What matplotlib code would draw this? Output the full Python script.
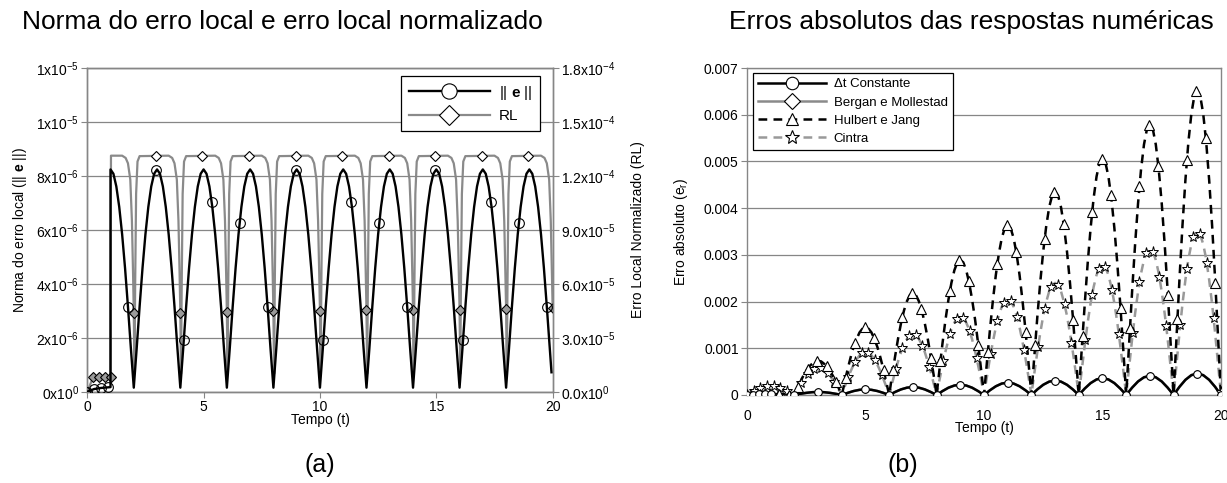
import numpy as np
import matplotlib.pyplot as plt
from matplotlib.lines import Line2D

plt.rcParams['font.family'] = ['Liberation Sans', 'DejaVu Sans']
plt.rcParams['mathtext.fontset'] = 'custom'
plt.rcParams['mathtext.rm'] = 'Liberation Sans'
plt.rcParams['mathtext.it'] = 'Liberation Sans:italic'
plt.rcParams['mathtext.bf'] = 'Liberation Sans:bold'

# ---------------- panel (a) data ----------------
# || e || (units 1e-6), sampled every 0.125 from t=1
t_e = [0, 0.3, 0.6, 0.9, 1.0] + np.arange(1.0, 19.9, 0.125).tolist() + [19.95]
e_norm = [0, 0.10, 0.14, 0.16, 0.17,
          8.24, 8.08, 7.61, 6.85, 5.83, 4.58, 3.15, 1.61, 0.15, 1.61, 3.15, 4.58, 5.83, 6.85, 7.61, 8.08,
          8.24, 8.08, 7.61, 6.85, 5.83, 4.58, 3.15, 1.61, 0.15, 1.61, 3.15, 4.58, 5.83, 6.85, 7.61, 8.08,
          8.24, 8.08, 7.61, 6.85, 5.83, 4.58, 3.15, 1.61, 0.15, 1.61, 3.15, 4.58, 5.83, 6.85, 7.61, 8.08,
          8.24, 8.08, 7.61, 6.85, 5.83, 4.58, 3.15, 1.61, 0.15, 1.61, 3.15, 4.58, 5.83, 6.85, 7.61, 8.08,
          8.24, 8.08, 7.61, 6.85, 5.83, 4.58, 3.15, 1.61, 0.15, 1.61, 3.15, 4.58, 5.83, 6.85, 7.61, 8.08,
          8.24, 8.08, 7.61, 6.85, 5.83, 4.58, 3.15, 1.61, 0.15, 1.61, 3.15, 4.58, 5.83, 6.85, 7.61, 8.08,
          8.24, 8.08, 7.61, 6.85, 5.83, 4.58, 3.15, 1.61, 0.15, 1.61, 3.15, 4.58, 5.83, 6.85, 7.61, 8.08,
          8.24, 8.08, 7.61, 6.85, 5.83, 4.58, 3.15, 1.61, 0.15, 1.61, 3.15, 4.58, 5.83, 6.85, 7.61, 8.08,
          8.24, 8.08, 7.61, 6.85, 5.83, 4.58, 3.15, 1.61, 0.15, 1.61, 3.15, 4.58, 5.83, 6.85, 7.61, 8.08,
          8.24, 8.08, 7.61, 6.85, 5.83, 4.58, 3.15, 1.61,
          0.72]
e_mk_t = [0, 0.3, 0.6, 0.9, 1.75, 2.95, 4.15, 5.35, 6.55, 7.75, 8.95, 10.15, 11.35,
          12.55, 13.75, 14.95, 16.15, 17.35, 18.55, 19.75]
e_mk = [0, 0.10, 0.14, 0.16, 3.15, 8.21, 1.92, 7.03, 6.27, 3.15, 8.21, 1.92, 7.03,
        6.27, 3.15, 8.21, 1.92, 7.03, 6.27, 3.15]

# RL (units 1e-5)
t_rl = [0, 0.25, 0.5, 0.75, 1.0, 1.02,
        1.5, 1.65, 1.75, 1.85, 1.92, 1.97, 2.0, 2.03, 2.06, 2.1, 2.16, 2.25,
        3.5, 3.65, 3.75, 3.85, 3.92, 3.97, 4.0, 4.03, 4.06, 4.1, 4.16, 4.25,
        5.5, 5.65, 5.75, 5.85, 5.92, 5.97, 6.0, 6.03, 6.06, 6.1, 6.16, 6.25,
        7.5, 7.65, 7.75, 7.85, 7.92, 7.97, 8.0, 8.03, 8.06, 8.1, 8.16, 8.25,
        9.5, 9.65, 9.75, 9.85, 9.92, 9.97, 10.0, 10.03, 10.06, 10.1, 10.16, 10.25,
        11.5, 11.65, 11.75, 11.85, 11.92, 11.97, 12.0, 12.03, 12.06, 12.1, 12.16, 12.25,
        13.5, 13.65, 13.75, 13.85, 13.92, 13.97, 14.0, 14.03, 14.06, 14.1, 14.16, 14.25,
        15.5, 15.65, 15.75, 15.85, 15.92, 15.97, 16.0, 16.03, 16.06, 16.1, 16.16, 16.25,
        17.5, 17.65, 17.75, 17.85, 17.92, 17.97, 18.0, 18.03, 18.06, 18.1, 18.16, 18.25,
        19.5, 19.65, 19.75, 19.85, 19.92, 19.97, 20.0]
rl = [0, 0.795, 0.795, 0.795, 0.795, 13.125,
      13.125, 13.0, 12.7, 11.8, 9.5, 6.5, 4.38, 1.0, 6.0, 11.0, 12.8, 13.1,
      13.125, 13.0, 12.7, 11.8, 9.5, 6.5, 4.40, 1.0, 6.0, 11.0, 12.8, 13.1,
      13.125, 13.0, 12.7, 11.8, 9.5, 6.5, 4.44, 1.0, 6.0, 11.0, 12.8, 13.1,
      13.125, 13.0, 12.7, 11.8, 9.5, 6.5, 4.47, 1.0, 6.0, 11.0, 12.8, 13.1,
      13.125, 13.0, 12.7, 11.8, 9.5, 6.5, 4.50, 1.0, 6.0, 11.0, 12.8, 13.1,
      13.125, 13.0, 12.7, 11.8, 9.5, 6.5, 4.53, 1.0, 6.0, 11.0, 12.8, 13.1,
      13.125, 13.0, 12.7, 11.8, 9.5, 6.5, 4.55, 1.0, 6.0, 11.0, 12.8, 13.1,
      13.125, 13.0, 12.7, 11.8, 9.5, 6.5, 4.56, 1.0, 6.0, 11.0, 12.8, 13.1,
      13.125, 13.0, 12.7, 11.8, 9.5, 6.5, 4.61, 1.0, 6.0, 11.0, 12.8, 13.1,
      13.125, 13.0, 12.7, 11.8, 9.5, 6.5, 4.65]
rl_top_t = [2.95, 4.95, 6.95, 8.95, 10.95, 12.95, 14.95, 16.95, 18.95]
rl_top = [13.125] * 9
rl_low_t = [0, 0.25, 0.5, 0.75, 1.0, 2, 4, 6, 8, 10, 12, 14, 16, 18, 20]
rl_low = [0, 0.795, 0.795, 0.795, 0.795, 4.38, 4.40, 4.44, 4.47, 4.50, 4.53, 4.55, 4.56, 4.61, 4.65]

yticks_a = [0, 2e-6, 4e-6, 6e-6, 8e-6, 1.0e-5, 1.2e-5]
ylabels_a = [r'$\mathregular{0x10^{0}}$', r'$\mathregular{2x10^{-6}}$', r'$\mathregular{4x10^{-6}}$',
             r'$\mathregular{6x10^{-6}}$', r'$\mathregular{8x10^{-6}}$', r'$\mathregular{1x10^{-5}}$',
             r'$\mathregular{1x10^{-5}}$']
yticks_rl = [0, 3e-5, 6e-5, 9e-5, 1.2e-4, 1.5e-4, 1.8e-4]
ylabels_rl = [r'$\mathregular{0.0x10^{0}}$', r'$\mathregular{3.0x10^{-5}}$', r'$\mathregular{6.0x10^{-5}}$',
              r'$\mathregular{9.0x10^{-5}}$', r'$\mathregular{1.2x10^{-4}}$', r'$\mathregular{1.5x10^{-4}}$',
              r'$\mathregular{1.8x10^{-4}}$']

# ---------------- panel (b) data (units 1e-3) ----------------
t_fine = np.arange(0, 20.001, 0.125)
t_coarse = np.arange(0, 20.001, 0.25)

const = [0, .008, .014, .018, .020, .018, .014, .008,
         0, .025, .046, .060, .065, .060, .046, .025,
         0, .046, .085, .111, .120, .111, .085, .046,
         0, .065, .120, .157, .170, .157, .120, .065,
         0, .084, .156, .203, .220, .203, .156, .084,
         0, .101, .187, .245, .265, .245, .187, .101,
         0, .119, .219, .286, .310, .286, .219, .119,
         0, .138, .255, .333, .360, .333, .255, .138,
         0, .157, .290, .379, .410, .379, .290, .157,
         0, .176, .325, .425, .460, .425, .325, .176,
         0]
const_mk_t = [0, 0.25, 0.5, 0.75, 1.0, 2, 3, 4, 5, 6, 7, 8, 9, 10, 11, 12, 13, 14, 15, 16, 17, 18, 19, 20]
const_mk = [0, .008, .014, .018, .020, 0, .065, 0, .12, 0, .17, 0, .22, 0, .265, 0, .31, 0, .36, 0,
            .41, 0, .46, 0]

# Bergan e Mollestad lies under the constant-step curve in the picture
bergan = list(const)
bergan_mk_t = list(const_mk_t)
bergan_mk = list(const_mk)

hulbert = [0, .01, .01, .02, .02, .02, .03, .03, .03, .03, .03, .02, .02, .02, .01, .01,
           0, .14, .28, .41, .52, .61, .67, .72, .73, .72, .67, .61, .52, .41, .28, .14,
           0, .28, .56, .81, 1.03, 1.20, 1.34, 1.42, 1.45, 1.42, 1.34, 1.20, 1.03, .81, .56, .28,
           0, .43, .83, 1.21, 1.54, 1.81, 2.01, 2.14, 2.18, 2.14, 2.01, 1.81, 1.54, 1.21, .83, .43,
           0, .56, 1.11, 1.61, 2.04, 2.40, 2.67, 2.84, 2.89, 2.84, 2.67, 2.40, 2.04, 1.61, 1.11, .56,
           0, .71, 1.39, 2.02, 2.57, 3.02, 3.36, 3.57, 3.64, 3.57, 3.36, 3.02, 2.57, 2.02, 1.39, .71,
           0, .85, 1.67, 2.42, 3.08, 3.61, 4.02, 4.27, 4.35, 4.27, 4.02, 3.61, 3.08, 2.42, 1.67, .85,
           0, .99, 1.94, 2.82, 3.58, 4.21, 4.68, 4.97, 5.07, 4.97, 4.68, 4.21, 3.58, 2.82, 1.94, .99,
           0, 1.13, 2.22, 3.22, 4.10, 4.82, 5.36, 5.69, 5.80, 5.69, 5.36, 4.82, 4.10, 3.22, 2.22, 1.13,
           0, 1.27, 2.50, 3.63, 4.61, 5.42, 6.02, 6.40, 6.52, 6.40, 6.02, 5.42, 4.61, 3.63, 2.50, 1.27,
           0]
hulbert_mk_t = [0, 0.16, 0.56, 0.96, 1.36, 1.76, 2.16, 2.56, 2.96, 3.36, 3.76,
                4.16, 4.56, 4.96, 5.36, 5.76, 6.16, 6.56, 6.96, 7.36, 7.76,
                8.16, 8.56, 8.96, 9.36, 9.76, 10.16, 10.56, 10.96, 11.36, 11.76,
                12.16, 12.56, 12.96, 13.36, 13.76, 14.16, 14.56, 14.96, 15.36, 15.76,
                16.16, 16.56, 16.96, 17.36, 17.76, 18.16, 18.56, 18.96, 19.36, 19.76]
hulbert_mk = [0, .01, .02, .03, .03, .01, .18, .56, .73, .62, .27,
              .36, 1.12, 1.45, 1.22, .53, .54, 1.68, 2.18, 1.84, .80,
              .72, 2.23, 2.88, 2.44, 1.06, .91, 2.81, 3.63, 3.07, 1.34,
              1.08, 3.35, 4.34, 3.67, 1.60, 1.26, 3.91, 5.06, 4.28, 1.87,
              1.44, 4.47, 5.79, 4.90, 2.13, 1.62, 5.03, 6.51, 5.50, 2.40]

cintra = [0, .04, .08, .11, .14, .17, .18, .20, .20, .20, .18, .17, .14, .11, .08, .04,
          0, .11, .22, .32, .41, .48, .54, .57, .58, .57, .54, .48, .41, .32, .22, .11,
          0, .18, .35, .51, .65, .76, .85, .90, .92, .90, .85, .76, .65, .51, .35, .18,
          0, .25, .50, .72, .92, 1.08, 1.20, 1.28, 1.30, 1.28, 1.20, 1.08, .92, .72, .50, .25,
          0, .33, .64, .93, 1.19, 1.40, 1.55, 1.65, 1.68, 1.65, 1.55, 1.40, 1.19, .93, .64, .33,
          0, .40, .79, 1.14, 1.45, 1.70, 1.89, 2.01, 2.05, 2.01, 1.89, 1.70, 1.45, 1.14, .79, .40,
          0, .47, .92, 1.33, 1.70, 1.99, 2.22, 2.35, 2.40, 2.35, 2.22, 1.99, 1.70, 1.33, .92, .47,
          0, .54, 1.06, 1.55, 1.97, 2.31, 2.57, 2.73, 2.78, 2.73, 2.57, 2.31, 1.97, 1.55, 1.06, .54,
          0, .61, 1.20, 1.74, 2.21, 2.60, 2.89, 3.07, 3.13, 3.07, 2.89, 2.60, 2.21, 1.74, 1.20, .61,
          0, .68, 1.34, 1.95, 2.47, 2.91, 3.23, 3.43, 3.50, 3.43, 3.23, 2.91, 2.47, 1.95, 1.34, .68,
          0]
cintra_mk_t = [0, 0.28, 0.56, 0.84, 1.12, 1.40, 1.69, 2.28, 2.56, 2.84, 3.12, 3.40, 3.69,
               4.28, 4.56, 4.84, 5.12, 5.40, 5.69, 6.28, 6.56, 6.84, 7.12, 7.40, 7.69,
               8.28, 8.56, 8.84, 9.12, 9.40, 9.69, 10.28, 10.56, 10.84, 11.12, 11.40, 11.69,
               12.28, 12.56, 12.84, 13.12, 13.40, 13.69, 14.28, 14.56, 14.84, 15.12, 15.40, 15.69,
               16.28, 16.56, 16.84, 17.12, 17.40, 17.69, 18.28, 18.56, 18.84, 19.12, 19.40, 19.69, 20]
cintra_mk = [0, .09, .15, .19, .20, .16, .09, .25, .45, .56, .57, .47, .27,
             .39, .71, .89, .90, .74, .43, .55, 1.00, 1.26, 1.28, 1.05, .61,
             .72, 1.30, 1.63, 1.65, 1.36, .79, .87, 1.58, 1.98, 2.01, 1.66, .96,
             1.02, 1.85, 2.32, 2.36, 1.94, 1.12, 1.18, 2.14, 2.69, 2.73, 2.25, 1.30,
             1.33, 2.41, 3.03, 3.07, 2.53, 1.47, 1.49, 2.70, 3.39, 3.44, 2.83, 1.64, .07]

legend_b = ['\u0394t Constante', 'Bergan e Mollestad', 'Hulbert e Jang', 'Cintra']

GRID = '#868686'
GRAY = '#8a8a8a'
TICK_FS = 10

fig = plt.figure(figsize=(12.27, 4.83), dpi=100)

# ================= panel (a) =================
ax = fig.add_axes([0.0711, 0.1890, 0.3793, 0.6702])
ax2 = ax.twinx()
ax.set_zorder(ax2.get_zorder() + 1)
ax.patch.set_visible(False)

ax2.plot(t_rl, np.array(rl) * 1e-5, color=GRAY, lw=1.6, zorder=2)
ax2.plot(rl_top_t, np.array(rl_top) * 1e-5, ls='none', marker='D', ms=5.5,
         mfc='white', mec='black', mew=0.8, zorder=3)
ax2.plot(rl_low_t, np.array(rl_low) * 1e-5, ls='none', marker='D', ms=5.5,
         mfc='#9a9a9a', mec='black', mew=0.8, zorder=3)

ax.plot(t_e, np.array(e_norm) * 1e-6, color='black', lw=1.7, zorder=4)
ax.plot(e_mk_t, np.array(e_mk) * 1e-6, ls='none', marker='o', ms=7,
        mfc='none', mec='black', mew=0.8, zorder=5)

ax.set_xlim(0, 20)
ax.set_ylim(0, 1.2e-5)
ax2.set_ylim(0, 1.8e-4)
ax.set_xticks([0, 5, 10, 15, 20])
ax.set_yticks(yticks_a, ylabels_a)
ax2.set_yticks(yticks_rl, ylabels_rl)
ax.yaxis.grid(True, color=GRID, lw=0.9)
ax.set_axisbelow(True)
for a in (ax, ax2):
    for s in a.spines.values():
        s.set_color(GRID)
        s.set_linewidth(1.0)
    a.tick_params(direction='out', length=4, color=GRID, labelsize=TICK_FS, pad=2)
ax.tick_params(axis='x', pad=2)

ax.set_xlabel('Tempo (t)', fontsize=TICK_FS, labelpad=-1)
ax.set_ylabel(r'Norma do erro local (|| $\mathbf{e}$ ||)', fontsize=TICK_FS)
ax.yaxis.set_label_coords(-0.126, 0.5)
ax2.set_ylabel('Erro Local Normalizado (RL)', fontsize=TICK_FS)
ax2.yaxis.set_label_coords(1.168, 0.5)

h_a = [Line2D([], [], color='black', lw=1.7, marker='o', ms=11, mfc='white', mec='black', mew=0.8),
       Line2D([], [], color=GRAY, lw=1.6, marker='D', ms=10, mfc='white', mec='black', mew=0.8)]
leg = ax.legend(h_a, [r'|| $\mathbf{e}$ ||', 'RL'], loc='upper right',
                bbox_to_anchor=(0.9727, 0.9753), borderaxespad=0, fontsize=11, handlelength=5.3,
                numpoints=1, fancybox=False, framealpha=1, edgecolor='black',
                borderpad=0.5, labelspacing=0.5, handletextpad=0.6)
leg.get_frame().set_linewidth(0.9)

fig.text(282 / 1227, 1 - 22 / 483, 'Norma do erro local e erro local normalizado',
         ha='center', va='center', fontsize=19)
fig.text(320 / 1227, 1 - 465 / 483, '(a)', ha='center', va='center', fontsize=18)

# ================= panel (b) =================
bx = fig.add_axes([0.6088, 0.1822, 0.3863, 0.6770])
bx.plot(t_coarse, np.array(bergan) * 1e-3, color=GRAY, lw=1.8, zorder=2)
bx.plot(bergan_mk_t, np.array(bergan_mk) * 1e-3, ls='none', marker='D', ms=4,
        mfc='white', mec='black', mew=0.7, zorder=2)
bx.plot(t_fine, np.array(cintra) * 1e-3, color='#999999', lw=1.8, dashes=(3.5, 2.5), zorder=3)
bx.plot(t_fine, np.array(hulbert) * 1e-3, color='black', lw=1.8, dashes=(3.5, 2.5), zorder=4)
bx.plot(t_coarse, np.array(const) * 1e-3, color='black', lw=1.8, zorder=5)
bx.plot(cintra_mk_t, np.array(cintra_mk) * 1e-3, ls='none', marker='*', ms=8,
        mfc='white', mec='black', mew=0.7, zorder=6)
bx.plot(hulbert_mk_t, np.array(hulbert_mk) * 1e-3, ls='none', marker='^', ms=7,
        mfc='white', mec='black', mew=0.8, zorder=6)
bx.plot(const_mk_t, np.array(const_mk) * 1e-3, ls='none', marker='o', ms=5.5,
        mfc='white', mec='black', mew=0.8, zorder=7)

bx.set_xlim(0, 20)
bx.set_ylim(0, 0.007)
bx.set_xticks([0, 5, 10, 15, 20])
bx.set_yticks([0, 0.001, 0.002, 0.003, 0.004, 0.005, 0.006, 0.007],
              ['0', '0.001', '0.002', '0.003', '0.004', '0.005', '0.006', '0.007'])
bx.yaxis.grid(True, color=GRID, lw=0.9)
bx.set_axisbelow(True)
for s in bx.spines.values():
    s.set_color(GRID)
    s.set_linewidth(1.0)
bx.tick_params(direction='out', length=4, color=GRID, labelsize=TICK_FS, pad=2)
bx.tick_params(axis='x', length=0, pad=10)
bx.set_xlabel('Tempo (t)', fontsize=TICK_FS, labelpad=-1)
bx.set_ylabel(r'Erro absoluto (e$_\mathregular{r}$)', fontsize=TICK_FS)
bx.yaxis.set_label_coords(-0.120, 0.5)

h_b = [Line2D([], [], color='black', lw=1.8, marker='o', ms=9, mfc='white', mec='black', mew=0.8),
       Line2D([], [], color=GRAY, lw=1.8, marker='D', ms=8, mfc='white', mec='black', mew=0.8),
       Line2D([], [], color='black', lw=1.8, dashes=(3.5, 2.5), marker='^', ms=9, mfc='white', mec='black', mew=0.8),
       Line2D([], [], color='#999999', lw=1.8, dashes=(3.5, 2.5), marker='*', ms=10, mfc='white', mec='black', mew=0.8)]
leg_b = bx.legend(h_b, legend_b, loc='upper left', bbox_to_anchor=(0.0127, 0.985), borderaxespad=0,
                  fontsize=9.5, handlelength=5.1, numpoints=1, fancybox=False, framealpha=1,
                  edgecolor='black', borderpad=0.4, labelspacing=0.45, handletextpad=0.6)
leg_b.get_frame().set_linewidth(0.9)

fig.text(971 / 1227, 1 - 22 / 483, 'Erros absolutos das respostas num\u00e9ricas',
         ha='center', va='center', fontsize=19)
fig.text(903 / 1227, 1 - 465 / 483, '(b)', ha='center', va='center', fontsize=18)

fig.savefig('out.png', dpi=100)
